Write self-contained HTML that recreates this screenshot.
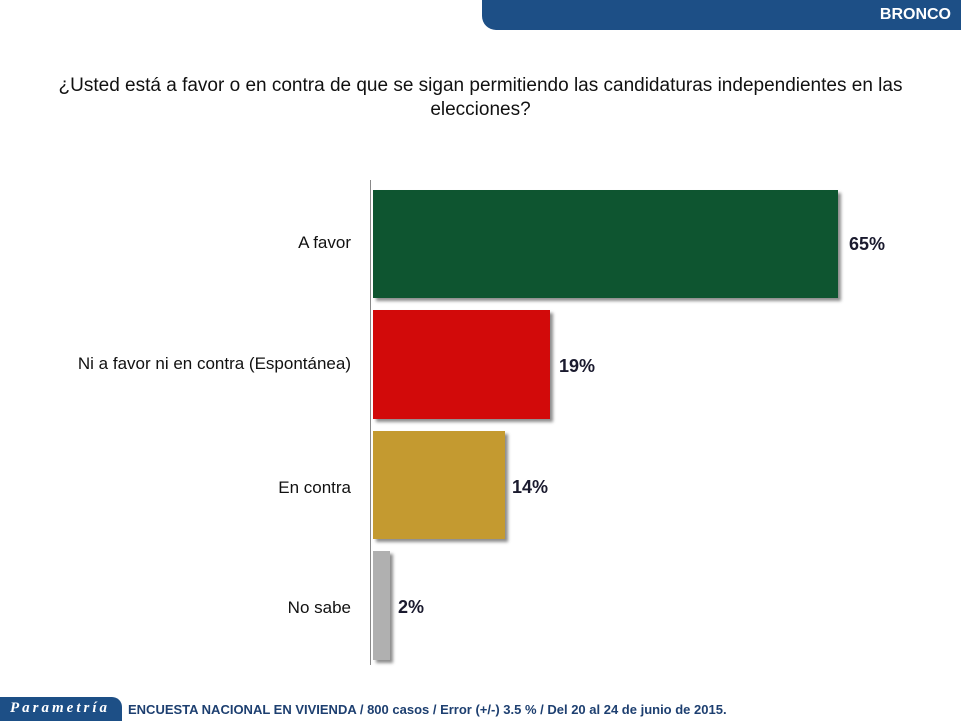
<!DOCTYPE html>
<html><head><meta charset="utf-8"><style>
body{margin:0;width:961px;height:721px;overflow:hidden;background:#fff;font-family:"Liberation Sans",sans-serif;position:relative}
.a{position:absolute}
.lab{position:absolute;right:610px;font-size:17px;color:#111;text-align:right;white-space:nowrap}
.val{position:absolute;font-size:18px;font-weight:bold;color:#1a1a2e}
.bar{position:absolute;left:373px;box-shadow:3px 3px 3px rgba(0,0,0,.45)}
</style></head><body>
<div class="a" style="left:482px;top:0;width:479px;height:30px;background:#1d4f86;border-bottom-left-radius:14px"></div>
<div class="a" style="right:10px;top:6px;color:#fff;font-weight:bold;font-size:16px">BRONCO</div>
<div class="a" style="left:0;top:74px;width:961px;text-align:center;font-size:19px;color:#111;line-height:24px">¿Usted está a favor o en contra de que se sigan permitiendo las candidaturas independientes en las<br>elecciones?</div>
<div class="a" style="left:370px;top:180px;width:1px;height:485px;background:#888"></div>
<div class="bar" style="top:190px;width:465px;height:108px;background:#0e5530"></div>
<div class="bar" style="top:310px;width:177px;height:109px;background:#d20a0a"></div>
<div class="bar" style="top:431px;width:132px;height:108px;background:#c49a30"></div>
<div class="bar" style="top:551px;width:17px;height:109px;background:#b0b0b0"></div>
<div class="lab" style="top:233px">A favor</div>
<div class="lab" style="top:354px">Ni a favor ni en contra (Espontánea)</div>
<div class="lab" style="top:478px">En contra</div>
<div class="lab" style="top:598px">No sabe</div>
<div class="val" style="left:849px;top:234px">65%</div>
<div class="val" style="left:559px;top:356px">19%</div>
<div class="val" style="left:512px;top:477px">14%</div>
<div class="val" style="left:398px;top:597px">2%</div>
<div class="a" style="left:0;top:697px;width:122px;height:24px;background:#1d4f86;border-top-right-radius:10px"></div>
<div class="a" style="left:10px;top:700px;color:#fff;font-family:'Liberation Serif',serif;font-style:italic;font-weight:bold;font-size:15px;letter-spacing:3px">Parametría</div>
<div class="a" style="left:128px;top:702px;color:#1d3f70;font-weight:bold;font-size:13px">ENCUESTA NACIONAL EN VIVIENDA / 800 casos / Error (+/-) 3.5 % / Del 20 al 24 de junio de 2015.</div>
</body></html>
